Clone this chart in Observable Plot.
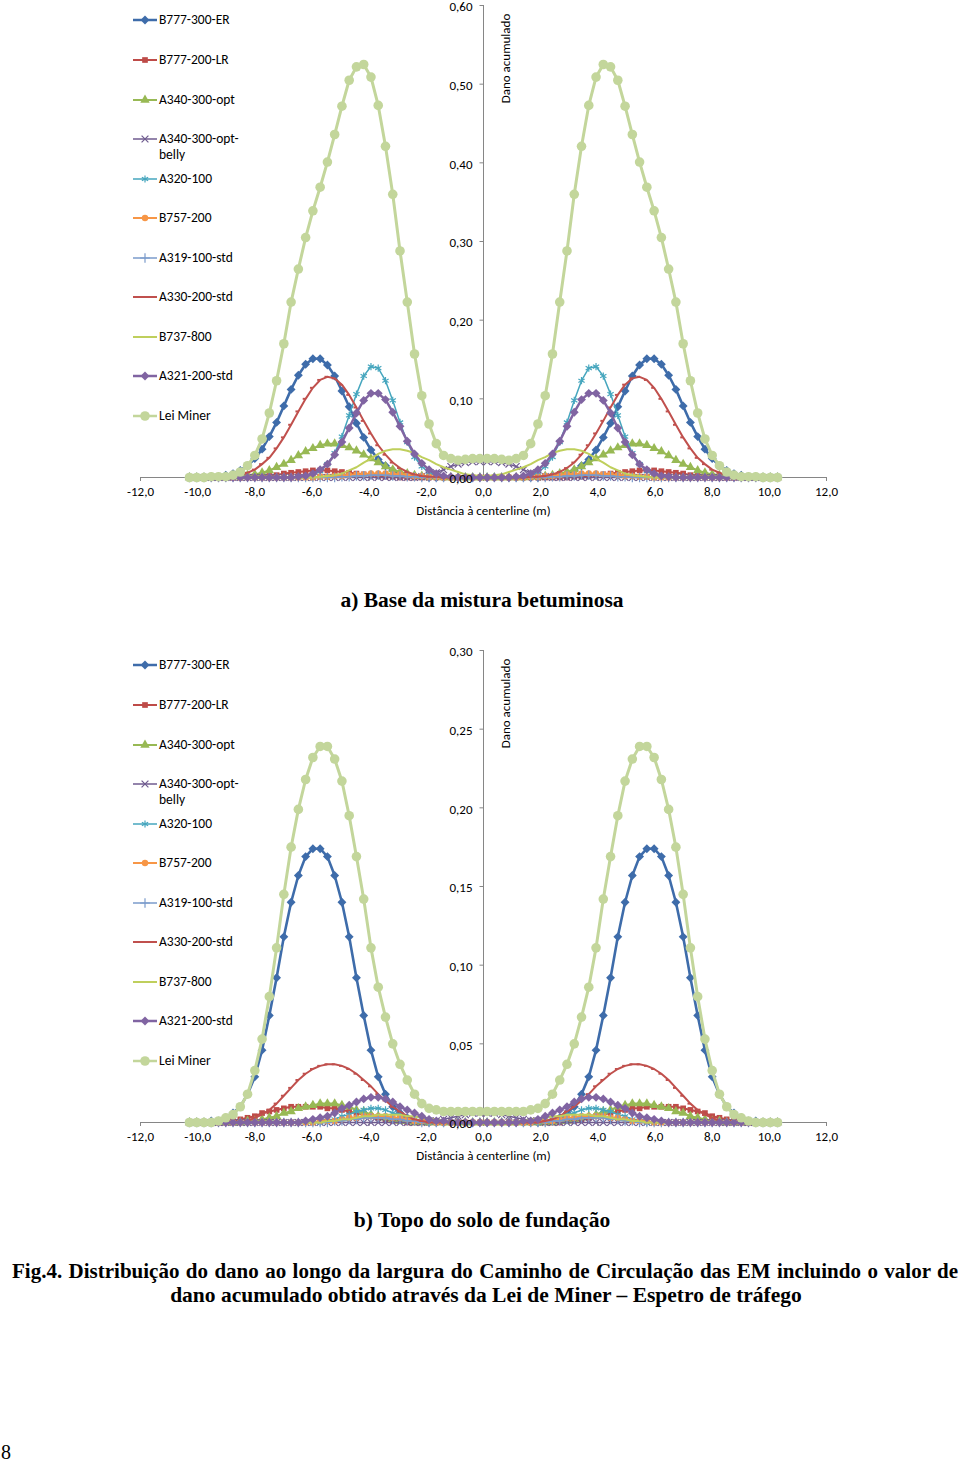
<!DOCTYPE html>
<html><head><meta charset="utf-8">
<script src="https://cdn.jsdelivr.net/npm/d3@7"></script>
<script src="https://cdn.jsdelivr.net/npm/@observablehq/plot@0.6"></script>
<style>
body{margin:0;background:#fff;}
#page{position:relative;width:960px;height:1463px;overflow:hidden;background:#fff;}
.chart{position:absolute;left:0;}
.leg{position:absolute;font-family:Carlito,Lato,'Liberation Sans',sans-serif;font-size:13.5px;line-height:16px;color:#000;white-space:nowrap;}
.leg svg{position:absolute;left:-26px;top:0;}
.cap{position:absolute;font-family:'Liberation Serif','Times New Roman',serif;font-weight:bold;font-size:21px;line-height:24px;color:#000;white-space:nowrap;}
svg [aria-label="x-axis tick"]{stroke:#868686;}
#err{position:absolute;left:600px;top:560px;color:red;font:12px sans-serif;}
</style></head>
<body><div id="page">
<div id="chartA" class="chart" style="top:0px"></div>
<div id="legA" class="chart" style="top:0px"></div>
<div class="cap" style="left:0;width:964px;text-align:center;top:588px;font-size:21.5px">a) Base da mistura betuminosa</div>
<div id="chartB" class="chart" style="top:645px"></div>
<div id="legB" class="chart" style="top:645px"></div>
<div class="cap" style="left:0;width:964px;text-align:center;top:1208px;font-size:21.5px">b) Topo do solo de fundação</div>
<div class="cap" style="left:12px;width:946px;top:1259px;text-align:justify;text-align-last:justify;">Fig.4. Distribuição do dano ao longo da largura do Caminho de Circulação das EM incluindo o valor de</div>
<div class="cap" style="left:0;width:972px;text-align:center;top:1283px;font-size:21.5px">dano acumulado obtido através da Lei de Miner – Espetro de tráfego</div>
<div class="cap" style="left:1px;top:1440px;font-weight:normal;font-size:20px">8</div>
<div id="err"></div>
</div>
<script>
// ---------- DATA ----------
const xs = [-10.287,-10.033,-9.779,-9.525,-9.271,-9.017,-8.763,-8.509,-8.255,-8.001,-7.747,-7.493,-7.239,-6.985,-6.731,-6.477,-6.223,-5.969,-5.715,-5.461,-5.207,-4.953,-4.699,-4.445,-4.191,-3.937,-3.683,-3.429,-3.175,-2.921,-2.667,-2.413,-2.159,-1.905,-1.651,-1.397,-1.143,-0.889,-0.635,-0.381,-0.127,
0.127,0.381,0.635,0.889,1.143,1.397,1.651,1.905,2.159,2.413,2.667,2.921,3.175,3.429,3.683,3.937,4.191,4.445,4.699,4.953,5.207,5.461,5.715,5.969,6.223,6.477,6.731,6.985,7.239,7.493,7.747,8.001,8.255,8.509,8.763,9.017,9.271,9.525,9.779,10.033,10.287];

const seriesNames = ["B777-300-ER","B777-200-LR","A340-300-opt","A340-300-opt-belly","A320-100","B757-200","A319-100-std","A330-200-std","B737-800","A321-200-std","Lei Miner"];
const xTicks = [-12,-10,-8,-6,-4,-2,0,2,4,6,8,10,12];
const yTicksA = [0,0.1,0.2,0.3,0.4,0.5,0.6];
const yTicksB = [0,0.05,0.10,0.15,0.20,0.25,0.30];
const xTitle = "Distância à centerline (m)";
const yTitle = "Dano acumulado";

// a) Base da mistura betuminosa
const a_B777_300_ER = [0,0,0,0.001,0.001,0.003,0.005,0.009,0.015,0.024,0.036,0.052,0.070,0.091,0.112,0.130,0.144,0.151,0.151,0.143,0.129,0.110,0.090,0.069,0.051,0.035,0.023,0.015,0.009,0.005,0.003,0.001,0.001,0,0,0,0,0,0,0,0,
 0,0,0,0,0,0,0,0,0.001,0.001,0.003,0.005,0.009,0.015,0.023,0.035,0.051,0.069,0.090,0.110,0.129,0.143,0.151,0.151,0.144,0.130,0.112,0.091,0.070,0.052,0.036,0.024,0.015,0.009,0.005,0.003,0.001,0.001,0,0,0];
const a_B777_200_LR = [0,0,0,0,0,0,0,0,0.001,0.001,0.002,0.002,0.003,0.005,0.006,0.007,0.008,0.009,0.009,0.009,0.008,0.007,0.006,0.005,0.004,0.003,0.002,0.001,0.001,0,0,0,0,0,0,0,0,0,0,0,0,
 0,0,0,0,0,0,0,0,0,0,0,0,0.001,0.001,0.002,0.003,0.004,0.005,0.006,0.007,0.008,0.009,0.009,0.009,0.008,0.007,0.006,0.005,0.003,0.002,0.002,0.001,0.001,0,0,0,0,0,0,0,0];
const a_A340_300_opt = [0,0,0,0,0,0.001,0.001,0.002,0.003,0.004,0.006,0.009,0.013,0.017,0.022,0.028,0.033,0.037,0.041,0.043,0.043,0.041,0.038,0.034,0.029,0.024,0.019,0.014,0.010,0.007,0.005,0.003,0.002,0.001,0.001,0,0,0,0,0,0,
 0,0,0,0,0,0,0.001,0.001,0.002,0.003,0.005,0.007,0.010,0.014,0.019,0.024,0.029,0.034,0.038,0.041,0.043,0.043,0.041,0.037,0.033,0.028,0.022,0.017,0.013,0.009,0.006,0.004,0.003,0.002,0.001,0.001,0,0,0,0,0];
const a_A340_belly = [0,0,0,0,0,0,0,0, 0,0,0,0,0,0,0,0, 0,0,0,0,0,0,0,0, 0,0,0,0,0,0,0,0, 0.001,0.003,0.006,0.010,0.014,0.017,0.019,0.020,0.020,
 0.020,0.020,0.019,0.017,0.014,0.010,0.006,0.003,0.001, 0,0,0,0,0,0,0,0, 0,0,0,0,0,0,0,0, 0,0,0,0,0,0,0,0, 0,0,0,0,0,0,0,0];
const a_A320_100 = [0,0,0,0,0,0,0,0, 0,0,0,0,0,0,0,0, 0.001,0.004,0.008,0.017,0.031,0.052,0.079,0.106,0.129,0.141,0.139,0.123,0.098,0.070,0.045,0.026,0.014,0.006,0.003,0.001, 0,0,0,0,0,
 0,0,0,0,0, 0.001,0.003,0.006,0.014,0.026,0.045,0.070,0.098,0.123,0.139,0.141,0.129,0.106,0.079,0.052,0.031,0.017,0.008,0.004,0.001, 0,0,0,0,0,0,0,0, 0,0,0,0,0,0,0,0];
const a_B757_200 = [0,0,0,0,0,0,0,0, 0,0,0,0,0,0,0,0, 0,0, 0.001,0.001,0.002,0.002,0.003,0.004,0.004,0.005,0.005,0.005,0.004,0.004,0.003,0.002,0.002,0.001,0.001, 0,0,0,0,0,0,
 0,0,0,0,0,0, 0.001,0.001,0.002,0.002,0.003,0.004,0.004,0.005,0.005,0.005,0.004,0.004,0.003,0.002,0.002,0.001,0.001, 0,0,0,0,0,0,0,0, 0,0,0,0,0,0,0,0, 0,0];
const a_A319_100_std = [0,0,0,0,0,0,0,0, 0,0,0,0,0,0,0,0, 0,0,0,0,0, 0.001,0.001,0.002,0.002,0.003,0.003,0.003,0.002,0.002,0.001,0.001, 0,0,0,0,0,0,0,0,0,
 0,0,0,0,0,0,0,0,0, 0.001,0.001,0.002,0.002,0.003,0.003,0.003,0.002,0.002,0.001,0.001, 0,0,0,0,0,0,0,0, 0,0,0,0,0,0,0,0, 0,0,0,0,0];
const a_A330_200_std = [0,0,0,0,0, 0.001,0.002,0.003,0.006,0.010,0.017,0.025,0.037,0.051,0.067,0.084,0.100,0.114,0.124,0.128,0.126,0.118,0.105,0.089,0.072,0.056,0.041,0.029,0.019,0.012,0.007,0.004,0.002,0.001,0.001, 0,0,0,0,0,0,
 0,0,0,0,0,0, 0.001,0.001,0.002,0.004,0.007,0.012,0.019,0.029,0.041,0.056,0.072,0.089,0.105,0.118,0.126,0.128,0.124,0.114,0.100,0.084,0.067,0.051,0.037,0.025,0.017,0.010,0.006,0.003,0.002,0.001, 0,0,0,0,0];
const a_B737_800 = [0,0,0,0,0,0,0,0, 0,0,0,0,0,0,0,0, 0,0, 0.001,0.002,0.003,0.005,0.009,0.013,0.019,0.024,0.030,0.034,0.036,0.036,0.034,0.031,0.026,0.022,0.017,0.013,0.010,0.007,0.004,0.003,0.002,
 0.002,0.003,0.004,0.007,0.010,0.013,0.017,0.022,0.026,0.031,0.034,0.036,0.036,0.034,0.030,0.024,0.019,0.013,0.009,0.005,0.003,0.002,0.001, 0,0,0,0,0,0,0,0, 0,0,0,0,0,0,0,0, 0,0];
const a_A321_200_std = [0,0,0,0,0,0,0,0, 0,0,0,0,0,0,0, 0.001,0.002,0.005,0.010,0.017,0.029,0.045,0.063,0.082,0.098,0.107,0.107,0.099,0.083,0.065,0.046,0.030,0.018,0.010,0.005,0.002,0.001, 0,0,0,0,
 0,0,0,0, 0.001,0.002,0.005,0.010,0.018,0.030,0.046,0.065,0.083,0.099,0.107,0.107,0.098,0.082,0.063,0.045,0.029,0.017,0.010,0.005,0.002,0.001, 0,0,0,0,0,0,0,0, 0,0,0,0,0,0,0];
const a_Lei_Miner = [0,0,0,0.001,0.001,0.001,0.003,0.007,0.015,0.028,0.049,0.082,0.123,0.170,0.223,0.265,0.305,0.339,0.369,0.401,0.436,0.472,0.505,0.522,0.525,0.509,0.473,0.421,0.360,0.288,0.223,0.157,0.104,0.068,0.043,0.028,0.024,0.022,0.023,0.024,0.024,
 0.024,0.024,0.023,0.022,0.024,0.028,0.043,0.068,0.104,0.157,0.223,0.288,0.360,0.421,0.473,0.509,0.525,0.522,0.505,0.472,0.436,0.401,0.369,0.339,0.305,0.265,0.223,0.170,0.123,0.082,0.049,0.028,0.015,0.007,0.003,0.001,0.001,0.001,0,0,0];

// b) Topo do solo de fundação
const b_B777_300_ER = [0,0,0,0.001,0.001,0.003,0.006,0.010,0.018,0.029,0.046,0.068,0.092,0.118,0.140,0.157,0.169,0.174,0.174,0.169,0.157,0.140,0.118,0.092,0.068,0.046,0.029,0.018,0.010,0.006,0.003,0.001,0.001,0,0,0,0,0,0,0,0,
 0,0,0,0,0,0,0,0,0.001,0.001,0.003,0.006,0.010,0.018,0.029,0.046,0.068,0.092,0.118,0.140,0.157,0.169,0.174,0.174,0.169,0.157,0.140,0.118,0.092,0.068,0.046,0.029,0.018,0.010,0.006,0.003,0.001,0.001,0,0,0];
const b_B777_200_LR = [0,0,0,0,0, 0.001,0.001,0.002,0.003,0.004,0.006,0.007,0.008,0.009,0.010,0.010,0.010,0.010,0.010,0.009,0.009,0.008,0.007,0.006,0.005,0.004,0.003,0.002,0.001,0.001, 0,0,0,0,0,0,0,0,0,0,0,
 0,0,0,0,0,0,0,0,0,0,0, 0.001,0.001,0.002,0.003,0.004,0.005,0.006,0.007,0.008,0.009,0.009,0.010,0.010,0.010,0.010,0.010,0.009,0.008,0.007,0.006,0.004,0.003,0.002,0.001,0.001, 0,0,0,0,0];
const b_A340_300_opt = [0,0,0,0,0,0,0,0, 0.001,0.001,0.002,0.003,0.004,0.006,0.007,0.009,0.010,0.011,0.012,0.012,0.012,0.011,0.010,0.008,0.007,0.005,0.004,0.003,0.002,0.001,0.001, 0,0,0,0,0,0,0,0,0,0,
 0,0,0,0,0,0,0,0,0,0, 0.001,0.001,0.002,0.003,0.004,0.005,0.007,0.008,0.010,0.011,0.012,0.012,0.012,0.011,0.010,0.009,0.007,0.006,0.004,0.003,0.002,0.001,0.001, 0,0,0,0,0,0,0,0];
const b_A340_belly = [0,0,0,0,0,0,0,0, 0,0,0,0,0,0,0,0, 0,0,0,0,0,0,0,0, 0,0,0,0,0,0,0,0, 0, 0.001,0.001,0.002,0.003,0.004,0.005,0.006,0.006,
 0.006,0.006,0.005,0.004,0.003,0.002,0.001,0.001, 0, 0,0,0,0,0,0,0,0, 0,0,0,0,0,0,0,0, 0,0,0,0,0,0,0,0, 0,0,0,0,0,0,0,0];
const b_A320_100 = [0,0,0,0,0,0,0,0, 0,0,0,0,0,0,0,0, 0,0,0, 0.001,0.002,0.004,0.005,0.007,0.008,0.009,0.009,0.008,0.006,0.005,0.003,0.002,0.001, 0,0,0,0,0,0,0,0,
 0,0,0,0,0,0,0,0, 0.001,0.002,0.003,0.005,0.006,0.008,0.009,0.009,0.008,0.007,0.005,0.004,0.002,0.001, 0,0,0,0,0,0,0,0, 0,0,0,0,0,0,0,0, 0,0,0];
const b_B757_200 = [0,0,0,0,0,0,0,0, 0,0,0,0,0,0,0,0, 0,0, 0.001,0.001,0.001,0.002,0.003,0.003,0.004,0.004,0.004,0.004,0.003,0.003,0.002,0.001,0.001,0.001, 0,0,0,0,0,0,0,
 0,0,0,0,0,0,0, 0.001,0.001,0.001,0.002,0.003,0.003,0.004,0.004,0.004,0.004,0.003,0.003,0.002,0.001,0.001,0.001, 0,0,0,0,0,0,0,0, 0,0,0,0,0,0,0,0, 0,0];
const b_A319_100_std = [0,0,0,0,0,0,0,0, 0,0,0,0,0,0,0,0, 0,0,0,0, 0.001,0.001,0.002,0.002,0.003,0.003,0.003,0.003,0.002,0.002,0.001,0.001, 0,0,0,0,0,0,0,0,0,
 0,0,0,0,0,0,0,0,0, 0.001,0.001,0.002,0.002,0.003,0.003,0.003,0.003,0.002,0.002,0.001,0.001, 0,0,0,0,0,0,0,0, 0,0,0,0,0,0,0,0, 0,0,0,0];
const b_A330_200_std = [0,0,0,0,0,0,0,0, 0.001,0.003,0.005,0.008,0.012,0.017,0.022,0.027,0.031,0.034,0.036,0.037,0.037,0.036,0.034,0.031,0.027,0.023,0.018,0.014,0.010,0.007,0.004,0.002,0.001, 0,0,0,0,0,0,0,0,
 0,0,0,0,0,0,0,0, 0.001,0.002,0.004,0.007,0.010,0.014,0.018,0.023,0.027,0.031,0.034,0.036,0.037,0.037,0.036,0.034,0.031,0.027,0.022,0.017,0.012,0.008,0.005,0.003,0.001, 0,0,0,0,0,0,0,0];
const b_B737_800 = [0,0,0,0,0,0,0,0, 0,0,0,0,0,0,0,0, 0,0,0, 0.001,0.001,0.002,0.002,0.003,0.004,0.004,0.005,0.005,0.005,0.005,0.004,0.004,0.003,0.002,0.002,0.001,0.001, 0,0,0,0,
 0,0,0,0, 0.001,0.001,0.002,0.002,0.003,0.004,0.004,0.005,0.005,0.005,0.005,0.004,0.004,0.003,0.002,0.002,0.001,0.001, 0,0,0,0,0,0,0,0, 0,0,0,0,0,0,0,0, 0,0,0];
const b_A321_200_std = [0,0,0,0,0,0,0,0, 0,0,0,0,0,0,0,0, 0.001,0.002,0.003,0.004,0.006,0.009,0.011,0.013,0.015,0.016,0.016,0.015,0.013,0.010,0.008,0.006,0.004,0.002,0.001,0.001, 0,0,0,0,0,
 0,0,0,0,0, 0.001,0.001,0.002,0.004,0.006,0.008,0.010,0.013,0.015,0.016,0.016,0.015,0.013,0.011,0.009,0.006,0.004,0.003,0.002,0.001, 0,0,0,0,0,0,0,0, 0,0,0,0,0,0,0,0];
const b_Lei_Miner = [0,0,0,0,0.001,0.003,0.005,0.010,0.018,0.033,0.053,0.080,0.111,0.145,0.175,0.199,0.218,0.232,0.239,0.239,0.231,0.217,0.195,0.169,0.142,0.111,0.086,0.067,0.050,0.037,0.027,0.018,0.012,0.009,0.008,0.007,0.007,0.007,0.007,0.007,0.007,
 0.007,0.007,0.007,0.007,0.007,0.007,0.008,0.009,0.012,0.018,0.027,0.037,0.050,0.067,0.086,0.111,0.142,0.169,0.195,0.217,0.231,0.239,0.239,0.232,0.218,0.199,0.175,0.145,0.111,0.080,0.053,0.033,0.018,0.010,0.005,0.003,0.001,0,0,0,0];

const valuesA = [a_B777_300_ER,a_B777_200_LR,a_A340_300_opt,a_A340_belly,a_A320_100,a_B757_200,a_A319_100_std,a_A330_200_std,a_B737_800,a_A321_200_std,a_Lei_Miner];
const valuesB = [b_B777_300_ER,b_B777_200_LR,b_A340_300_opt,b_A340_belly,b_A320_100,b_B757_200,b_A319_100_std,b_A330_200_std,b_B737_800,b_A321_200_std,b_Lei_Miner];

// ---------- STYLE ----------
const FONT = "Carlito, Lato, 'Liberation Sans', sans-serif";
const AXIS = "#868686";
const sColor = ["#3E6CAA","#BE4B48","#98B954","#6F5B8F","#46A6BE","#F79646","#7B9BCB","#C0504D","#BFCF5C","#8064A2","#C3D69B"];
const sSymbol = ["diamond2","square","triangle","times","asterisk","circle","plus","dash",null,"diamond2","circle"];
const sR = [4,3.2,3.5,3.2,3.4,3.2,3.2,3,0,4,4.8];
const sWidth = [2.6,2,2,1.5,1.5,2,1.5,2,2,2.5,3];
const strokeOnly = new Set(["times","asterisk","plus","dash"]);
const dashSymbol = {draw(ctx, size){ const w = Math.sqrt(size)*0.55; ctx.moveTo(-w,0); ctx.lineTo(0,0); }};
const yTickSymbol = {draw(ctx){ ctx.moveTo(-4,0); ctx.lineTo(0,0); }};
const d3sym = {diamond2:d3.symbolDiamond2,square:d3.symbolSquare,triangle:d3.symbolTriangle,times:d3.symbolTimes,asterisk:d3.symbolAsterisk,circle:d3.symbolCircle,plus:d3.symbolPlus,dash:dashSymbol};

const errs = [];
[valuesA, valuesB].forEach((vs, c) => vs.forEach((v, k) => { if (v.length !== xs.length) errs.push((c?"b ":"a ") + seriesNames[k] + " " + v.length); }));
document.getElementById("err").textContent = errs.join(" | ");

function makeChart(values, yMax, yTicks, digits) {
  const marks = [
    Plot.ruleY([0], {stroke: AXIS, strokeWidth: 1}),
    Plot.ruleX([0], {stroke: AXIS, strokeWidth: 1}),
    Plot.dot(yTicks, {x: () => 0, y: d => d, symbol: yTickSymbol, r: 2, stroke: AXIS, fill: "none", strokeWidth: 1})
  ];
  values.forEach((vals, k) => {
    const data = vals.map((v, i) => ({x: xs[i], y: v}));
    marks.push(Plot.line(data, {x: "x", y: "y", stroke: sColor[k], strokeWidth: sWidth[k], strokeLinejoin: "round"}));
    const s = sSymbol[k];
    if (s) {
      const sym = s === "dash" ? dashSymbol : s;
      if (strokeOnly.has(s)) marks.push(Plot.dot(data, {x: "x", y: "y", symbol: sym, r: sR[k], stroke: sColor[k], fill: "none", strokeWidth: s === "dash" ? 2 : 1.2}));
      else marks.push(Plot.dot(data, {x: "x", y: "y", symbol: sym, r: sR[k], fill: sColor[k], stroke: "none"}));
    }
  });
  marks.push(Plot.text(yTicks, {x: () => 0, y: d => d, text: d => d.toFixed(digits).replace(".", ","), dx: -11, dy: 1.5, textAnchor: "end", fill: "#000"}));
  marks.push(Plot.text([yTitle], {x: () => 0, frameAnchor: "top", dx: 17, dy: 53, rotate: -90, fill: "#000"}));
  marks.push(Plot.text([xTitle], {x: () => 0, frameAnchor: "bottom", dy: 37, fill: "#000"}));
  return Plot.plot({
    width: 960, height: 530,
    marginLeft: 140, marginRight: 134, marginTop: 5, marginBottom: 53,
    x: {domain: [-12, 12], ticks: xTicks, tickFormat: d => d.toFixed(1).replace(".", ","), tickSize: 4, tickPadding: 5, label: null},
    y: {domain: [0, yMax], axis: null},
    style: {fontFamily: FONT, fontSize: "13px", color: "#000", background: "transparent", overflow: "visible"},
    marks
  });
}

function makeLegend(el) {
  const tops = [20,60,100,139,179,218,258,297,337,376,416];
  seriesNames.forEach((name, k) => {
    const div = document.createElement("div");
    div.className = "leg";
    div.style.left = "159px";
    div.style.top = (tops[k] - 8) + "px";
    const s = sSymbol[k];
    let markerSvg = "";
    if (s && s !== "dash") {
      const size = Math.PI * sR[k] * sR[k];
      const p = d3.symbol(d3sym[s], size)();
      markerSvg = strokeOnly.has(s)
        ? `<path d="${p}" transform="translate(12,8)" fill="none" stroke="${sColor[k]}" stroke-width="1.2"/>`
        : `<path d="${p}" transform="translate(12,8)" fill="${sColor[k]}"/>`;
    }
    const icon = `<svg width="26" height="16"><line x1="0" y1="8" x2="24" y2="8" stroke="${sColor[k]}" stroke-width="${Math.min(sWidth[k],2.5)}"/>${markerSvg}</svg>`;
    const label = name === "A340-300-opt-belly" ? "A340-300-opt-<br>belly" : name;
    div.innerHTML = icon + label;
    el.appendChild(div);
  });
}

document.getElementById("chartA").appendChild(makeChart(valuesA, 0.6, yTicksA, 2));
document.getElementById("chartB").appendChild(makeChart(valuesB, 0.3, yTicksB, 2));
makeLegend(document.getElementById("legA"));
makeLegend(document.getElementById("legB"));
</script>
</body></html>
